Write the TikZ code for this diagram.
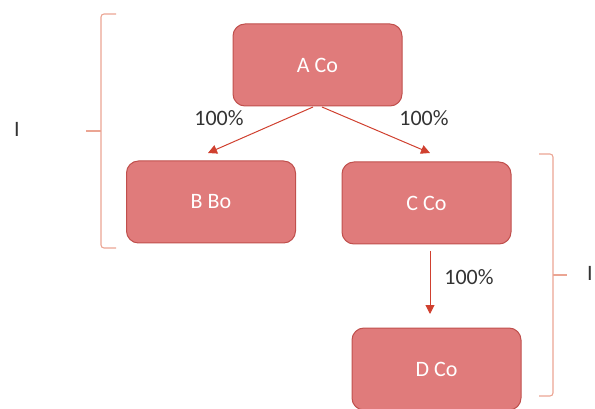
\documentclass[tikz,border=0pt]{standalone}
\usepackage{fontspec}
\setmainfont{Carlito}
\usetikzlibrary{arrows.meta}
\definecolor{boxfill}{HTML}{E07B7B}
\definecolor{boxline}{HTML}{C0504D}
\definecolor{arrowred}{HTML}{D0402F}
\definecolor{bracket}{HTML}{EBA593}
\tikzstyle{company}=[draw=boxline, fill=boxfill, line width=1pt, text=white,
  minimum width=169pt, minimum height=82pt, rounded corners=12pt,
  font=\fontsize{22}{26}\selectfont]
\tikzstyle{share}=[text=black!80, font=\fontsize{22}{26}\selectfont]
\tikzstyle{line}=[draw, color=arrowred, line width=1pt,
  -{Triangle[length=9pt,width=9pt]}]
\tikzstyle{bracket}=[draw, color=bracket, line width=1.1pt, rounded corners=3pt]
\newcommand{\company}[3]{node (#1) [company] at (#2) {#3}}

\begin{document}
\begin{tikzpicture}[x=1pt,y=-1pt]
  \useasboundingbox (0,0) rectangle (595,409);

  % companies
  \path \company{ACO}{317.5,65}{A Co};
  \path \company{BBO}{211,202}{B Bo};
  \path \company{CCO}{426.5,203}{C Co};
  \path \company{DCO}{436.5,369}{D Co};

  % arrow ends
  \coordinate (aleft) at (313,107);
  \coordinate (aright) at (322,107);
  \coordinate (btip) at (208,153);
  \coordinate (ctip) at (430,153);
  \coordinate (ctop) at (430,251);
  \coordinate (dtip) at (430,314);

  % shareholdings
  \path [line] (aleft) -- (btip);
  \path [line] (aright) -- (ctip);
  \path [line] (ctop) -- (dtip);
  \node (s1) [share] at (219,118) {100\%};
  \node (s2) [share] at (424,118) {100\%};
  \node (s3) [share] at (469,277) {100\%};

  % left bracket
  \path [bracket] (116,14) -- (101,14) -- (101,248) -- (116,248);
  \path [bracket] (101,131) -- (86,131);
  \node (ileft) [share] at (17,129) {I};

  % right bracket
  \path [bracket] (539,154) -- (553,154) -- (553,396) -- (539,396);
  \path [bracket] (553,275) -- (567,275);
  \node (iright) [share] at (590,273) {I};
\end{tikzpicture}
\end{document}
